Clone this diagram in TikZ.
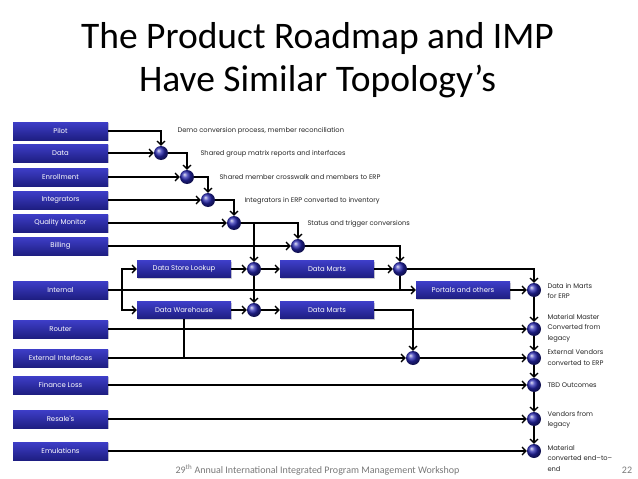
\documentclass[tikz,border=0pt]{standalone}
\usepackage{fontspec}
\setmainfont{Carlito}
\newfontfamily\diagfont{Poppins}
\usetikzlibrary{arrows.meta,shadows}
\definecolor{srctop}{RGB}{62,62,200}
\definecolor{srcbot}{RGB}{30,30,130}
\definecolor{hubblue}{RGB}{38,38,175}
\definecolor{footgray}{RGB}{120,120,120}

\begin{document}
\begin{tikzpicture}[x=1pt, y=-1pt, >={Straight Barb[length=3.8pt,width=8pt]},
    src/.style={top color=srctop, bottom color=srcbot, text=white, font=\diagfont\fontsize{6.9}{7.5}\selectfont,
        minimum width=95pt, minimum height=18pt, inner sep=0pt,
        drop shadow={shadow xshift=1pt, shadow yshift=-1pt, opacity=0.35}},
    stage/.style={src, minimum width=94pt, minimum height=17pt},
    hub/.style={circle, shading=ball, ball color=hubblue, minimum size=14pt, inner sep=0pt},
    note/.style={anchor=west, text=black!85, font=\diagfont\fontsize{6.7}{7.5}\selectfont},
    outcome/.style={note, align=left, font=\diagfont\fontsize{6.7}{10.5}\selectfont},
    flow/.style={->, line width=1.4pt},
    link/.style={line width=1.4pt}]
    \useasboundingbox (0,0) rectangle (638,479);

    \node[font=\fontsize{37.5}{43}\selectfont, anchor=base] (title1) at (317.5,48) {The Product Roadmap and IMP};
    \node[font=\fontsize{37.5}{43}\selectfont, anchor=base] (title2) at (317.5,91) {Have Similar Topology’s};

    \node[src] (pilot) at (60.5,131) {Pilot};
    \node[src] (data) at (60.5,153) {Data};
    \node[src] (enroll) at (60.5,177) {Enrollment};
    \node[src] (integr) at (60.5,200) {Integrators};
    \node[src] (quality) at (60.5,223) {Quality Monitor};
    \node[src] (billing) at (60.5,246) {Billing};
    \node[src] (internal) at (60.5,290) {Internal};
    \node[src] (router) at (60.5,329) {Router};
    \node[src] (extif) at (60.5,358) {External Interfaces};
    \node[src] (finance) at (60.5,385) {Finance Loss};
    \node[src] (resale) at (60.5,419) {Resale's};
    \node[src] (emul) at (60.5,451) {Emulations};

    \node[stage] (lookup) at (184,269) {Data Store Lookup};
    \node[stage] (warehouse) at (184,310) {Data Warehouse};
    \node[stage] (martsa) at (327,269) {Data Marts};
    \node[stage] (martsb) at (327,310) {Data Marts};
    \node[stage] (portals) at (463,290) {Portals and others};

    \node[hub] (h1) at (161,153) {};
    \node[hub] (h2) at (187,177) {};
    \node[hub] (h3) at (208,200) {};
    \node[hub] (h4) at (234,223) {};
    \node[hub] (h5) at (298,246) {};
    \node[hub] (h6) at (254,269) {};
    \node[hub] (h7) at (254,310) {};
    \node[hub] (h8) at (400,269) {};
    \node[hub] (h9) at (413,358) {};
    \node[hub] (h10) at (534,290) {};
    \node[hub] (h11) at (534,329) {};
    \node[hub] (h12) at (534,358) {};
    \node[hub] (h13) at (534,385) {};
    \node[hub] (h14) at (534,419) {};
    \node[hub] (h15) at (534,451) {};
    \coordinate (split) at (122,290);

    \node[note] (n1) at (174,131) {Demo conversion process, member reconciliation};
    \node[note] (n2) at (197,154) {Shared group matrix reports and interfaces};
    \node[note] (n3) at (216,177) {Shared member crosswalk and members to ERP};
    \node[note] (n4) at (241,201) {Integrators in ERP converted to inventory};
    \node[note] (n5) at (304,224) {Status and trigger conversions};

    \node[outcome] (o1) at (544,291) {Data in Marts\\for ERP};
    \node[outcome] (o2) at (544,328) {Material Master\\Converted from\\legacy};
    \node[outcome] (o3) at (544,357.5) {External Vendors\\converted to ERP};
    \node[outcome] (o4) at (544,385) {TBD Outcomes};
    \node[outcome] (o5) at (544,420) {Vendors from\\legacy};
    \node[outcome] (o6) at (544,458) {Material\\converted end–to–\\end};

    \draw[flow] (pilot.east) -| (h1.north);
    \draw[flow] (data.east) -- (h1.west);
    \draw[flow] (h1.east) -| (h2.north);
    \draw[flow] (enroll.east) -- (h2.west);
    \draw[flow] (h2.east) -| (h3.north);
    \draw[flow] (integr.east) -- (h3.west);
    \draw[flow] (h3.east) -| (h4.north);
    \draw[flow] (quality.east) -- (h4.west);
    \draw[flow] (h4.east) -| (h5.north);
    \draw[flow] (h4.east) -| (h6.north);
    \draw[flow] (billing.east) -- (h5.west);
    \draw[flow] (h5.east) -| (h8.north);

    \draw[flow] (internal.east) -- (portals.west);
    \draw[flow] (split) |- (lookup.west);
    \draw[flow] (split) |- (warehouse.west);
    \draw[flow] (lookup.east) -- (h6.west);
    \draw[flow] (h6.east) -- (martsa.west);
    \draw[flow] (martsa.east) -- (h8.west);
    \draw[flow] (h6.south) -- (h7.north);
    \draw[flow] (warehouse.east) -- (h7.west);
    \draw[flow] (h7.east) -- (martsb.west);
    \draw[link] (h8.south) -- (h8 |- internal.east);
    \draw[link] (warehouse.south) -- (warehouse.south |- extif.east);
    \draw[flow] (martsb.east) -| (h9.north);
    \draw[flow] (extif.east) -- (h9.west);

    \draw[flow] (h8.east) -| (h10.north);
    \draw[flow] (portals.east) -- (h10.west);
    \draw[flow] (h10.south) -- (h11.north);
    \draw[flow] (router.east) -- (h11.west);
    \draw[flow] (h11.south) -- (h12.north);
    \draw[flow] (h9.east) -- (h12.west);
    \draw[flow] (h12.south) -- (h13.north);
    \draw[flow] (finance.east) -- (h13.west);
    \draw[flow] (h13.south) -- (h14.north);
    \draw[flow] (resale.east) -- (h14.west);
    \draw[flow] (h14.south) -- (h15.north);
    \draw[flow] (emul.east) -- (h15.west);

    \node[text=footgray, font=\fontsize{10}{11}\selectfont] (footer) at (317.5,470) {29\textsuperscript{th} Annual International Integrated Program Management Workshop};
    \node[text=footgray, font=\fontsize{10}{11}\selectfont] (page) at (627,470) {22};
\end{tikzpicture}
\end{document}
